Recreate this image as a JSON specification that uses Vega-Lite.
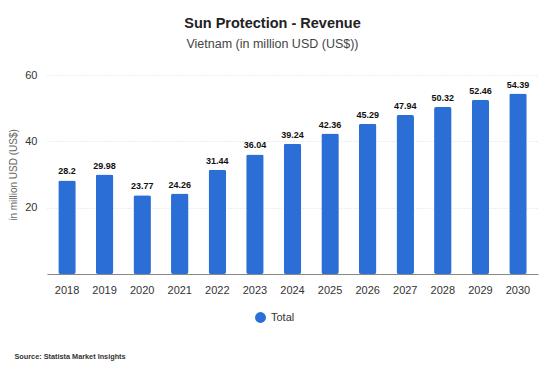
{
  "$schema": "https://vega.github.io/schema/vega-lite/v6.json",
  "width": 491,
  "height": 199,
  "autosize": {"type": "none"},
  "padding": {"left": 47, "top": 75, "right": 7, "bottom": 98},
  "background": "white",
  "config": {
    "font": "Liberation Sans",
    "view": {"stroke": null}
  },
  "title": {
    "text": "Sun Protection - Revenue",
    "subtitle": "Vietnam (in million USD (US$))",
    "anchor": "middle",
    "dx": -20,
    "fontSize": 14.5,
    "fontWeight": "bold",
    "color": "#222222",
    "subtitleFontSize": 12.5,
    "subtitleColor": "#444444",
    "subtitlePadding": 6,
    "offset": 18
  },
  "data": {
    "values": [
      {"year": "2018", "value": 28.2, "series": "Total"},
      {"year": "2019", "value": 29.98, "series": "Total"},
      {"year": "2020", "value": 23.77, "series": "Total"},
      {"year": "2021", "value": 24.26, "series": "Total"},
      {"year": "2022", "value": 31.44, "series": "Total"},
      {"year": "2023", "value": 36.04, "series": "Total"},
      {"year": "2024", "value": 39.24, "series": "Total"},
      {"year": "2025", "value": 42.36, "series": "Total"},
      {"year": "2026", "value": 45.29, "series": "Total"},
      {"year": "2027", "value": 47.94, "series": "Total"},
      {"year": "2028", "value": 50.32, "series": "Total"},
      {"year": "2029", "value": 52.46, "series": "Total"},
      {"year": "2030", "value": 54.39, "series": "Total"}
    ]
  },
  "encoding": {
    "x": {
      "field": "year",
      "type": "ordinal",
      "scale": {"paddingInner": 0.535, "paddingOuter": 0.3},
      "axis": {
        "title": "Source: Statista Market Insights",
        "titleX": -33,
        "titleY": 82,
        "titleAlign": "left",
        "titleAnchor": null,
        "titleBaseline": "middle",
        "titleFontSize": 7.3,
        "titleFontWeight": "bold",
        "titleColor": "#333333",
        "labelAngle": 0,
        "labelFontSize": 11,
        "labelColor": "#333333",
        "labelPadding": 10,
        "ticks": false,
        "domainColor": "#888888",
        "domainWidth": 1
      }
    },
    "y": {
      "field": "value",
      "type": "quantitative",
      "scale": {"domain": [0, 60]},
      "axis": {
        "values": [0, 20, 40, 60],
        "title": "in million USD (US$)",
        "titleFontSize": 10,
        "titleFontWeight": "normal",
        "titleColor": "#666666",
        "titlePadding": 6,
        "labelFontSize": 11,
        "labelColor": "#333333",
        "labelPadding": 10,
        "ticks": false,
        "domain": false,
        "gridColor": "#dddddd",
        "gridDash": [1, 2],
        "labelExpr": "datum.value == 0 ? '' : datum.label"
      }
    }
  },
  "layer": [
    {
      "mark": {"type": "bar", "cornerRadius": 2},
      "encoding": {
        "color": {
          "field": "series",
          "type": "nominal",
          "scale": {"range": ["#2b6fd6"]},
          "legend": {
            "title": null,
            "orient": "none",
            "legendX": 207,
            "legendY": 236,
            "symbolType": "circle",
            "symbolSize": 120,
            "labelFontSize": 11,
            "labelColor": "#333333"
          }
        }
      }
    },
    {
      "mark": {"type": "text", "baseline": "bottom", "dy": -4, "fontSize": 9, "fontWeight": "bold", "color": "#111111"},
      "encoding": {
        "text": {"field": "value", "type": "quantitative"}
      }
    }
  ]
}
